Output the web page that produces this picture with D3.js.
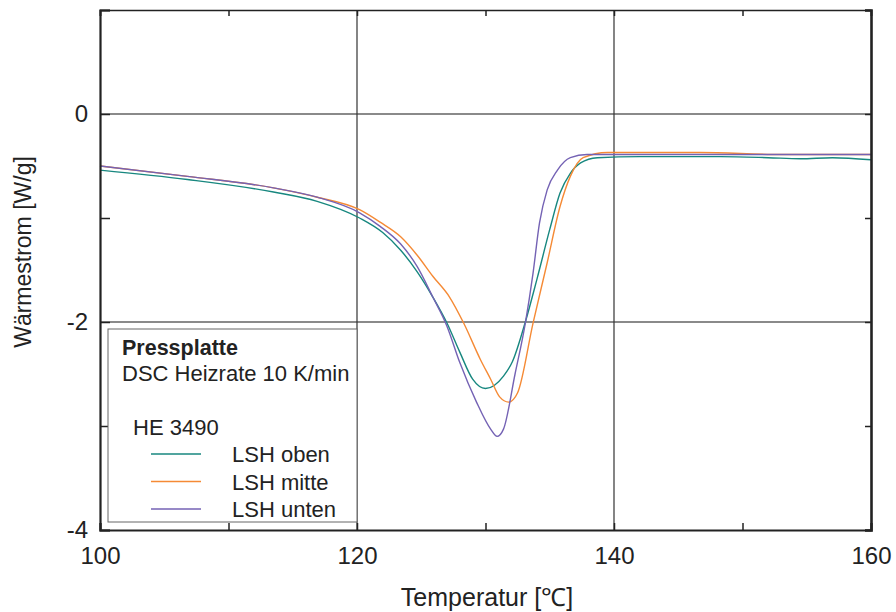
<!DOCTYPE html>
<html>
<head>
<meta charset="utf-8">
<script src="https://cdn.jsdelivr.net/npm/d3@7"></script>
<style>
  body { margin: 0; background: #fff; }
  svg { display: block; }
  text { font-family: "Liberation Sans", Arial, Helvetica, sans-serif; fill: #222; }
</style>
</head>
<body>
<svg id="chart" width="896" height="612"></svg>
<script>
// Axis ticks
const tempTicks = [100, 110, 120, 130, 140, 150, 160];
const tempLabels = [100, 120, 140, 160];
const heatTicks = [-4, -3, -2, -1, 0, 1];
const heatLabels = [-4, -2, 0];

// DSC heating curves, 10 K/min (temperature in °C, heat flow in W/g)
const obenT = [100, 106.8, 113.5, 116.9, 120.2, 122.0, 123.4, 124.7, 125.9, 127.0, 128.0, 129.0, 130.0, 131.4, 132.1, 133.1, 134.0, 135.0, 135.8, 136.6, 137.4, 138.7, 142.0, 148.3, 152.0, 154.5, 157.0, 160];
const obenW = [-0.54, -0.63, -0.75, -0.84, -1.00, -1.14, -1.31, -1.52, -1.76, -2.01, -2.29, -2.55, -2.64, -2.52, -2.38, -2.00, -1.59, -1.11, -0.76, -0.57, -0.47, -0.42, -0.41, -0.41, -0.42, -0.43, -0.42, -0.44];

const mitteT = [100, 106.8, 113.5, 116.9, 120.2, 121.8, 123.4, 124.7, 125.9, 127.2, 128.3, 129.6, 130.4, 131.1, 131.8, 132.5, 133.7, 134.8, 135.8, 136.6, 137.6, 139.5, 146.7, 153.0, 160];
const mitteW = [-0.50, -0.60, -0.71, -0.80, -0.92, -1.04, -1.18, -1.36, -1.56, -1.76, -2.01, -2.36, -2.55, -2.72, -2.77, -2.68, -2.01, -1.43, -0.89, -0.60, -0.42, -0.37, -0.37, -0.39, -0.39];

const untenT = [100, 106.8, 113.5, 116.9, 120.2, 121.8, 123.4, 124.7, 125.9, 127.0, 128.0, 129.3, 130.4, 130.9, 131.4, 132.3, 133.1, 133.7, 134.2, 134.8, 135.6, 136.6, 137.9, 146.7, 160];
const untenW = [-0.50, -0.60, -0.71, -0.80, -0.95, -1.08, -1.25, -1.47, -1.76, -2.04, -2.39, -2.77, -3.03, -3.10, -3.03, -2.50, -2.01, -1.53, -1.05, -0.73, -0.54, -0.42, -0.39, -0.39, -0.39];

const seriesNames = ["LSH oben", "LSH mitte", "LSH unten"];
const seriesColors = ["#17877f", "#f58a35", "#7462b4"];

const series = [
  { name: seriesNames[0], color: seriesColors[0], pts: obenT.map((t, i) => [t, obenW[i]]) },
  { name: seriesNames[1], color: seriesColors[1], pts: mitteT.map((t, i) => [t, mitteW[i]]) },
  { name: seriesNames[2], color: seriesColors[2], pts: untenT.map((t, i) => [t, untenW[i]]) }
];

const svg = d3.select("#chart");
const L = 100, R = 871, T = 10, B = 530;

const x = d3.scaleLinear().domain([100, 160]).range([L, R]);
const y = d3.scaleLinear().domain([-4, 1]).range([B, T]);

// Grid lines
svg.append("g").selectAll("line").data([0, -2]).join("line")
  .attr("x1", L).attr("x2", R).attr("y1", d => y(d)).attr("y2", d => y(d))
  .attr("stroke", "#8a8a8a").attr("stroke-width", 2);
svg.append("g").selectAll("line").data([120, 140]).join("line")
  .attr("x1", d => x(d)).attr("x2", d => x(d)).attr("y1", T).attr("y2", B)
  .attr("stroke", "#333").attr("stroke-width", 1.2);

// Curves
const line = d3.line().x(d => x(d[0])).y(d => y(d[1])).curve(d3.curveMonotoneX);
svg.append("g").selectAll("path").data(series).join("path")
  .attr("d", d => line(d.pts))
  .attr("fill", "none").attr("stroke", d => d.color).attr("stroke-width", 1.4);

// Axes (inward ticks)
const fmtX = d => tempLabels.includes(d) ? d : "";
const fmtY = d => heatLabels.includes(d) ? d : "";

const xAxis = svg.append("g").attr("transform", `translate(0,${B})`)
  .call(d3.axisBottom(x).tickValues(tempTicks).tickFormat(fmtX).tickSize(-7).tickPadding(17));
const xTop = svg.append("g").attr("transform", `translate(0,${T})`)
  .call(d3.axisTop(x).tickValues(tempTicks).tickFormat("").tickSize(-6));
const yAxis = svg.append("g").attr("transform", `translate(${L},0)`)
  .call(d3.axisLeft(y).tickValues(heatTicks).tickFormat(fmtY).tickSize(-10).tickPadding(12));
const yRight = svg.append("g").attr("transform", `translate(${R},0)`)
  .call(d3.axisRight(y).tickValues(heatTicks).tickFormat("").tickSize(-6));

[xAxis, xTop, yAxis, yRight].forEach(g => {
  g.selectAll(".tick line").attr("stroke", "#222").attr("stroke-width", 1.5);
  g.selectAll("text").attr("font-size", 24).attr("fill", "#222")
    .attr("font-family", '"Liberation Sans", Arial, sans-serif');
});
xAxis.select(".domain").attr("stroke", "#222").attr("stroke-width", 2.2);
yAxis.select(".domain").attr("stroke", "#222").attr("stroke-width", 2.2);
xTop.select(".domain").attr("stroke", "#222").attr("stroke-width", 1.6);
yRight.select(".domain").attr("stroke", "#222").attr("stroke-width", 2.6);

// Axis titles
svg.append("text").attr("x", 487).attr("y", 606)
  .attr("text-anchor", "middle").attr("font-size", 25).text("Temperatur [℃]");
svg.append("text").attr("transform", "translate(31,252) rotate(-90)")
  .attr("text-anchor", "middle").attr("font-size", 23).text("Wärmestrom [W/g]");

// Legend box
const lg = svg.append("g").attr("transform", "translate(108,329)");
lg.append("rect").attr("width", 249).attr("height", 193)
  .attr("fill", "#fff").attr("stroke", "#666").attr("stroke-width", 1);
lg.append("text").attr("x", 14).attr("y", 26).attr("font-size", 21.5).attr("font-weight", "bold").text("Pressplatte");
lg.append("text").attr("x", 14).attr("y", 52).attr("font-size", 22).text("DSC Heizrate 10 K/min");
lg.append("text").attr("x", 25).attr("y", 106).attr("font-size", 22).text("HE 3490");
const rows = lg.selectAll("g.row").data(series).join("g").attr("class", "row")
  .attr("transform", (d, i) => `translate(0,${125 + i * 27.5})`);
rows.append("line").attr("x1", 43).attr("x2", 93).attr("y1", 0).attr("y2", 0)
  .attr("stroke", d => d.color).attr("stroke-width", 1.4);
rows.append("text").attr("x", 124).attr("y", 8).attr("font-size", 22).text(d => d.name);
</script>
</body>
</html>
